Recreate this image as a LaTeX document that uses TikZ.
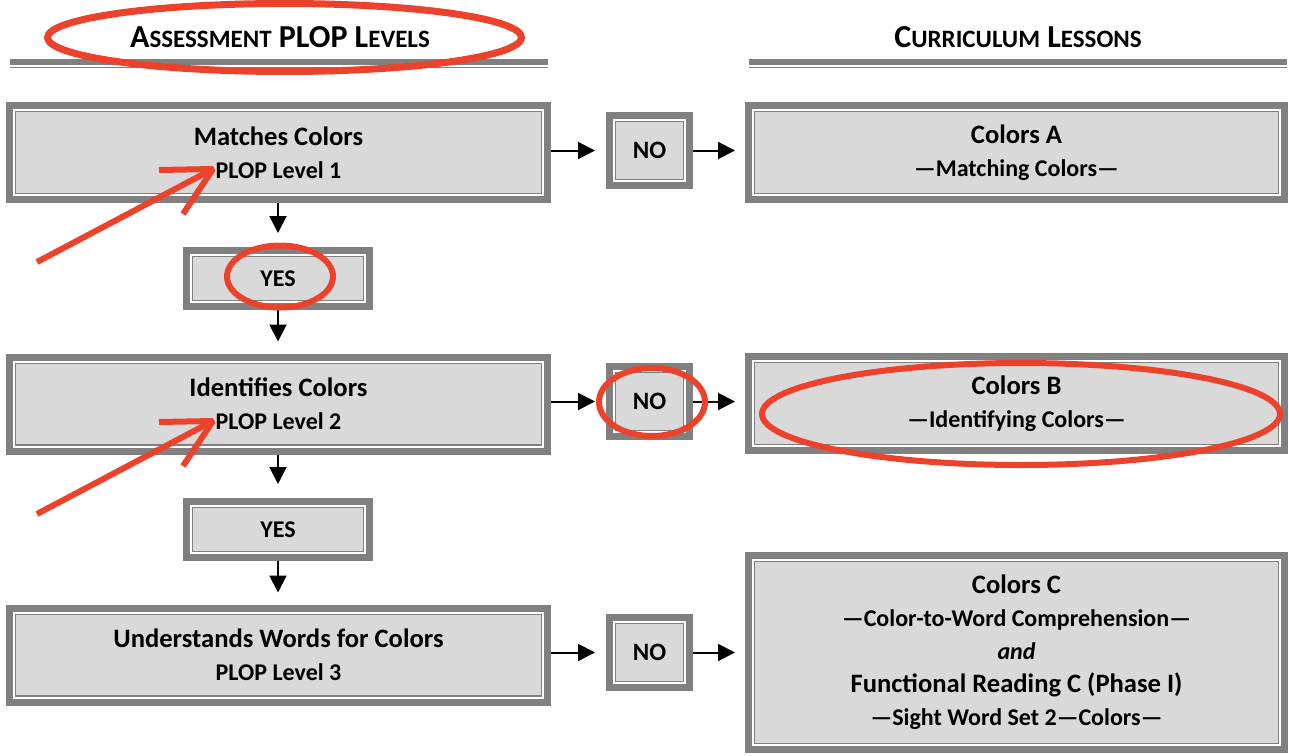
\documentclass[tikz,border=0pt]{standalone}
\usepackage{fontspec}
\setmainfont{Carlito}
\usepackage{tikz}
\usetikzlibrary{arrows.meta}
\definecolor{framegray}{RGB}{128,128,128}
\definecolor{boxgray}{RGB}{217,217,217}
\definecolor{markred}{RGB}{236,66,44}
\newcommand\titlefont{\fontsize{13.3}{16.5}\selectfont}
\newcommand\subfont{\fontsize{12}{16.5}\selectfont}
\newcommand\smallcap[2]{#1{\fontsize{12.5}{12.5}\selectfont #2}}

\begin{document}
\begin{tikzpicture}[x=0.5pt, y=-0.5pt,
    box/.style={fill=boxgray, draw=framegray, line width=3.5pt, inner sep=0pt,
        align=center, font=\subfont\bfseries},
    levelbox/.style={box, minimum width=269pt, minimum height=47pt},
    lessonbox/.style={box, minimum width=268pt, minimum height=47pt},
    nobox/.style={box, minimum width=40pt, minimum height=35pt, font=\fontsize{12.5}{15}\selectfont\bfseries},
    yesbox/.style={box, minimum width=91.5pt, minimum height=28pt},
    flow/.style={line width=1pt, -{Triangle[length=8.5pt, width=8.5pt]}},
    markup/.style={markred, line width=3pt}]
    \useasboundingbox (0,0) rectangle (1289,755);
    % headings
    \node (hdrL) at (280,37) {\fontsize{16}{16}\selectfont\bfseries
        \smallcap{A}{SSESSMENT} PLOP \smallcap{L}{EVELS}};
    \node (hdrR) at (1018,37) {\fontsize{16}{16}\selectfont\bfseries
        \smallcap{C}{URRICULUM} \smallcap{L}{ESSONS}};
    \draw [framegray, line width=3pt] (10,62) -- (548,62);
    \draw [framegray, line width=0.8pt] (10,67.5) -- (548,67.5);
    \draw [framegray, line width=3pt] (749,62) -- (1287,62);
    \draw [framegray, line width=0.8pt] (749,67.5) -- (1287,67.5);
    % assessment levels
    \node [levelbox] (lvlA) at (278.5,152.5) {{\titlefont Matches Colors}\\PLOP Level 1};
    \node [yesbox] (yesA) at (278,278.5) {YES};
    \node [levelbox] (lvlB) at (278.5,404) {{\titlefont Identifies Colors}\\PLOP Level 2};
    \node [yesbox] (yesB) at (278,529.5) {YES};
    \node [levelbox] (lvlC) at (278.5,655) {{\titlefont Understands Words for Colors}\\PLOP Level 3};
    % no boxes
    \node [nobox] (noA) at (649.5,150.5) {NO};
    \node [nobox] (noB) at (649.5,401.5) {NO};
    \node [nobox] (noC) at (649.5,652.5) {NO};
    % curriculum lessons
    \node [lessonbox] (lesA) at (1016.5,152.5) {{\titlefont Colors A}\\---Matching Colors---};
    \node [lessonbox] (lesB) at (1016.5,403.5) {{\titlefont Colors B}\\---Identifying Colors---};
    \node [lessonbox, minimum height=97pt] (lesC) at (1016.5,652.5)
        {{\titlefont Colors C}\\---Color-to-Word Comprehension---\\\textit{and}\\
         {\titlefont Functional Reading C (Phase I)}\\---Sight Word Set 2---Colors---};
    % inner frames
    \foreach \b in {lvlA,lvlB,lvlC,yesA,yesB,noA,noB,noC,lesA,lesB,lesC} {
        \draw [white, line width=1pt] ([xshift=4pt, yshift=-4pt]\b.north west)
            rectangle ([xshift=-4pt, yshift=4pt]\b.south east);
        \draw [framegray, line width=0.7pt] ([xshift=4.85pt, yshift=-4.85pt]\b.north west)
            rectangle ([xshift=-4.85pt, yshift=4.85pt]\b.south east);
    }
    % arrows
    \draw [flow, shorten >=5.5pt] (lvlA.east |- noA) -- (noA.west);
    \draw [flow, shorten >=5pt] (noA.east) -- (lesA.west |- noA);
    \draw [flow, shorten >=5.5pt] (lvlB.east |- noB) -- (noB.west);
    \draw [flow, shorten >=5pt] (noB.east) -- (lesB.west |- noB);
    \draw [flow, shorten >=5.5pt] (lvlC.east |- noC) -- (noC.west);
    \draw [flow, shorten >=5pt] (noC.east) -- (lesC.west |- noC);
    \draw [flow, shorten >=7pt] (lvlA.south -| yesA) -- (yesA.north);
    \draw [flow, shorten >=6pt] (yesA.south) -- (lvlB.north -| yesA);
    \draw [flow, shorten >=7pt] (lvlB.south -| yesB) -- (yesB.north);
    \draw [flow, shorten >=6pt] (yesB.south) -- (lvlC.north -| yesB);
    % red markup
    \draw [markup, line width=3.5pt] (284.5,37.5) ellipse [x radius=237, y radius=34];
    \draw [markup] (280,276.5) ellipse [x radius=53, y radius=31];
    \draw [markup] (652,402) ellipse [x radius=53, y radius=34];
    \draw [markup] (1021,414) ellipse [x radius=259, y radius=51];
    \draw [markup] (37,262) -- (213,169);
    \draw [markup, miter limit=2] (159,170) -- (213,169) -- (183,214);
    \draw [markup] (37,514) -- (213,421);
    \draw [markup, miter limit=2] (159,422) -- (213,421) -- (183,466);
\end{tikzpicture}
\end{document}
